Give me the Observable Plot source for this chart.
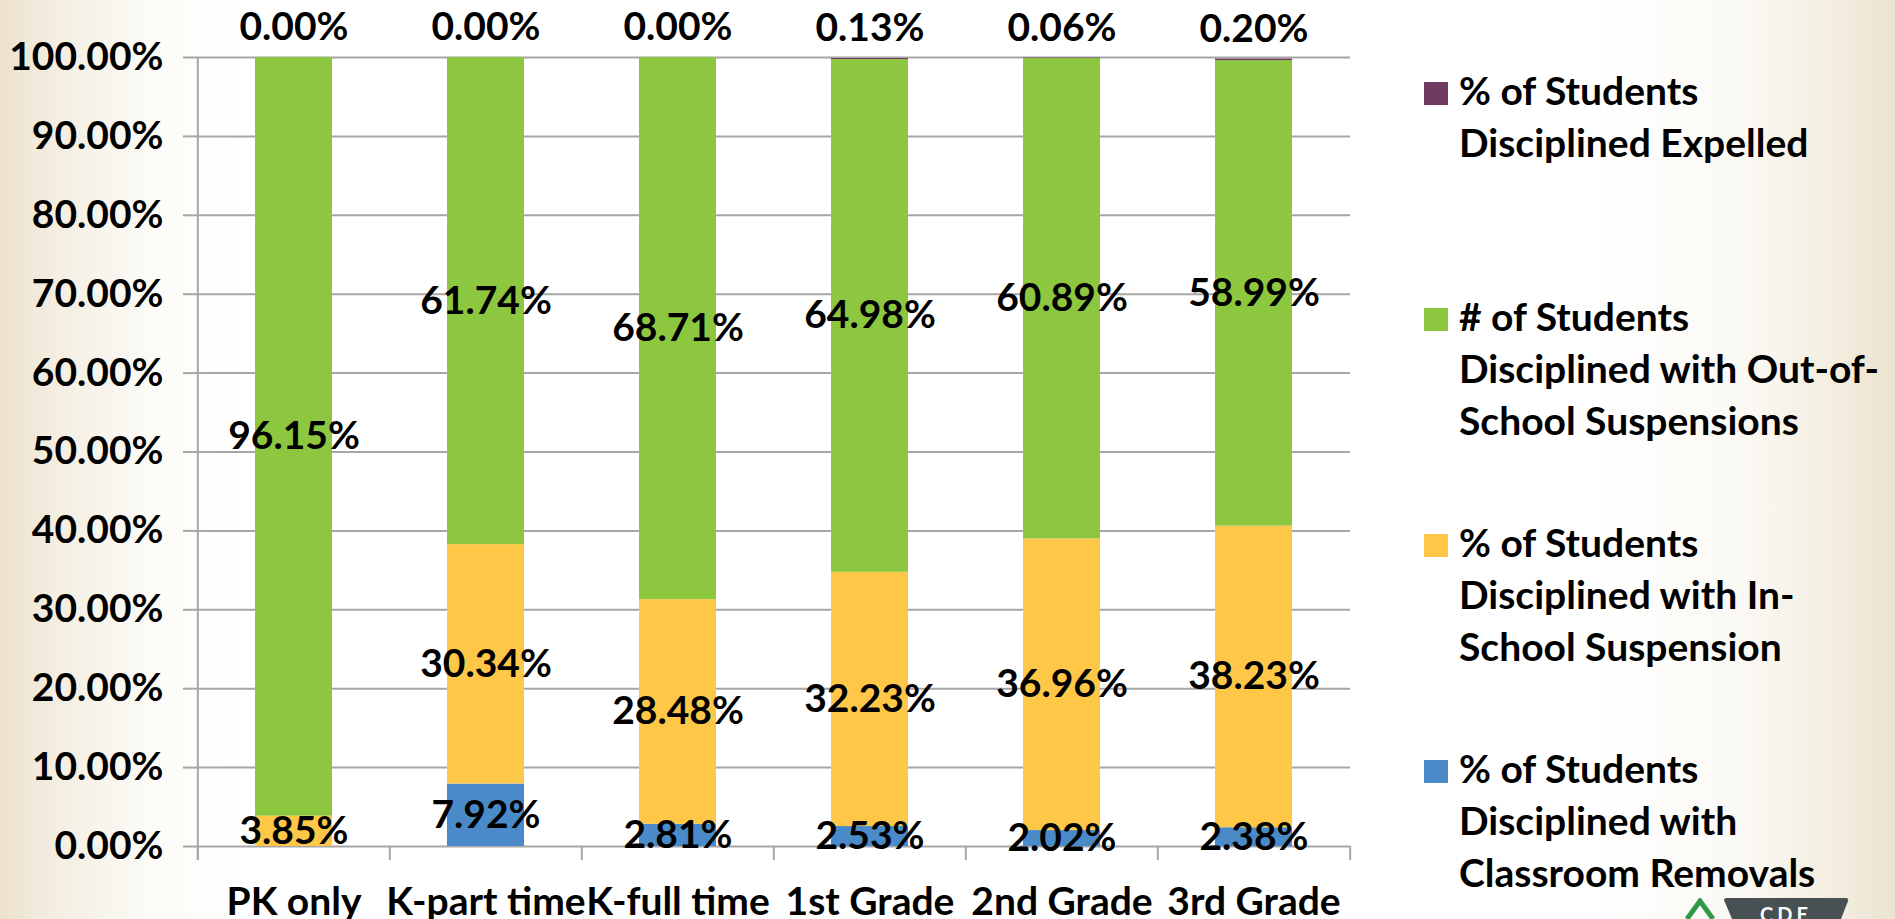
<!DOCTYPE html>
<html><head><meta charset="utf-8">
<script src="https://cdn.jsdelivr.net/npm/d3@7"></script>
<script src="https://cdn.jsdelivr.net/npm/@observablehq/plot@0.6"></script>
<style>
html,body{margin:0;padding:0;width:1895px;height:919px;overflow:hidden;}
body{position:relative;font-family:Lato,"Open Sans",sans-serif;
 background:linear-gradient(to right,#ECE2CC 0%,#F4EEE2 3%,#FCFBF7 8%,#FFFFFF 13%,#FFFFFF 84%,#FBF9F4 92%,#F3EDE0 97%,#ECE3CF 100%);}
#chart{position:absolute;left:0;top:0;}
#legend{position:absolute;left:1424px;top:64px;}
.entry{height:226px;display:flex;align-items:flex-start;}
.sw{width:24px;height:23px;margin-top:18px;margin-right:11px;flex:none;}
.lab{font-weight:700;font-size:39px;line-height:52px;white-space:pre;color:#000;}
#logo{position:absolute;left:1684px;top:898px;}
</style></head>
<body>
<div id="chart"></div>
<div id="legend"></div>
<svg id="logo" width="170" height="21" viewBox="0 0 170 21">
 <path d="M3 21 L16 3 L29 21" fill="none" stroke="#2E9A47" stroke-width="5"/>
 <path d="M40 2 Q40 0 43 0 L162 0 Q165 0 164 3 L157 21 L48 21 Z" fill="#475053"/>
 <text x="102" y="24" text-anchor="middle" font-family="Lato,sans-serif" font-weight="700" font-size="20" fill="#fff" letter-spacing="4">CDE</text>
</svg>
<script>
const categories = ["PK only", "K-part time", "K-full time", "1st Grade", "2nd Grade", "3rd Grade"];
const seriesNames = [
  "% of Students Disciplined with Classroom Removals",
  "% of Students Disciplined with In-School Suspension",
  "# of Students Disciplined with Out-of-School Suspensions",
  "% of Students Disciplined Expelled"
];
const legendLines = [
  "% of Students\nDisciplined with\nClassroom Removals",
  "% of Students\nDisciplined with In-\nSchool Suspension",
  "# of Students\nDisciplined with Out-of-\nSchool Suspensions",
  "% of Students\nDisciplined Expelled"
];
const seriesColors = ["#4A8AC9", "#FFC748", "#8DC63F", "#6E3A5F"];
const classroomRemovals = [null, 7.92, 2.81, 2.53, 2.02, 2.38];
const inSchool = [3.85, 30.34, 28.48, 32.23, 36.96, 38.23];
const outOfSchool = [96.15, 61.74, 68.71, 64.98, 60.89, 58.99];
const expelled = [0.00, 0.00, 0.00, 0.13, 0.06, 0.20];
const yTicks = [0, 10, 20, 30, 40, 50, 60, 70, 80, 90, 100];

const seriesValues = [classroomRemovals, inSchool, outOfSchool, expelled];
const data = [];
seriesValues.forEach((vals, s) => vals.forEach((v, i) => {
  data.push({category: categories[i], series: seriesNames[s], value: v});
}));

const FONT = "Lato, 'Open Sans', sans-serif";
const fmt = v => d3.format(".2f")(v) + "%";
const W = 1380, H = 919, mL = 196, mR = 30, mT = 57, mB = 73;
const step = (W - mL - mR) / categories.length;
const frameH = H - mT - mB;
const GRAY = "#A6A6A6";
const expelledName = seriesNames[3];

const chart = Plot.plot({
  width: W, height: H,
  marginLeft: mL, marginRight: mR, marginTop: mT, marginBottom: mB,
  style: {background: "transparent", fontFamily: FONT, overflow: "visible"},
  x: {domain: categories, paddingInner: 0.6, paddingOuter: 0.3},
  y: {domain: [0, 100]},
  color: {domain: seriesNames, range: seriesColors},
  marks: [
    Plot.gridY(yTicks, {stroke: GRAY, strokeOpacity: 1, strokeWidth: 2}),
    Plot.axisY({ticks: yTicks, tickSize: 13, tickPadding: 20, tickFormat: fmt,
      stroke: GRAY, strokeWidth: 2, fill: "#000", fontSize: 39, fontWeight: 700, label: null}),
    Plot.ruleX([categories[0]], {dx: -step / 2, stroke: GRAY, strokeWidth: 2, insetBottom: -14}),
    Plot.ruleX(categories, {dx: -step / 2, stroke: GRAY, strokeWidth: 2, insetTop: frameH, insetBottom: -14}),
    Plot.ruleX([categories[categories.length - 1]], {dx: step / 2, stroke: GRAY, strokeWidth: 2, insetTop: frameH, insetBottom: -14}),
    Plot.barY(data, {x: "category", y: "value", fill: "series", order: seriesNames}),
    Plot.text(data, Plot.stackY({x: "category", y: "value", z: "series", order: seriesNames,
      text: d => (d.series === expelledName || d.value == null) ? null : fmt(d.value),
      fill: "#000", fontSize: 39, fontWeight: 700})),
    Plot.text(data, Plot.stackY2({x: "category", y: "value", z: "series", order: seriesNames,
      text: d => d.series === expelledName ? fmt(d.value) : null,
      dy: -30, fill: "#000", fontSize: 39, fontWeight: 700})),
    Plot.axisX({tickSize: 0, tickPadding: 41, fill: "#000", fontSize: 39, fontWeight: 700, label: null})
  ]
});
document.getElementById("chart").append(chart);

const legend = d3.select("#legend");
[3, 2, 1, 0].forEach(s => {
  const e = legend.append("div").attr("class", "entry");
  e.append("div").attr("class", "sw").style("background", seriesColors[s]);
  e.append("div").attr("class", "lab").text(legendLines[s]);
});
</script>
</body></html>
